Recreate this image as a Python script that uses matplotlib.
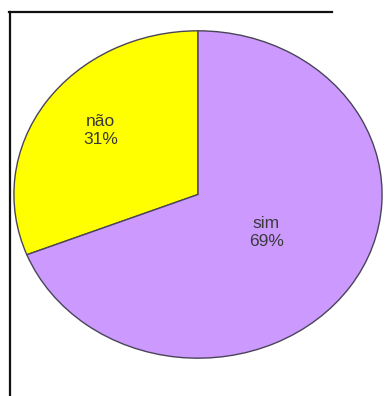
import matplotlib
matplotlib.use("Agg")
import matplotlib.pyplot as plt
from matplotlib.lines import Line2D

labels = ["não", "sim"]
values = [31, 69]
colors = ["#ffff00", "#cc99ff"]

fig = plt.figure(figsize=(3.85, 3.96), dpi=100)
fig.patch.set_facecolor("white")

# background axes in pixel coordinates, for the frame lines
bg = fig.add_axes([0, 0, 1, 1])
bg.set_xlim(0, 385)
bg.set_ylim(396, 0)
bg.axis("off")
bg.add_line(Line2D([9, 332], [12, 12], color="#111111", lw=1.6))
bg.add_line(Line2D([10, 10], [12, 396], color="#111111", lw=1.6))

# pie axes stretched over the ellipse bounding box
ax = fig.add_axes([13 / 385, (396 - 359) / 396, 370 / 385, 329 / 396])
wedges, _ = ax.pie(values, colors=colors, startangle=90, counterclock=True,
                   wedgeprops=dict(edgecolor="#4a4458", linewidth=1.0))
ax.set_aspect("auto")
ax.set_xlim(-1.005, 1.005)
ax.set_ylim(-1.005, 1.005)
ax.axis("off")

total = sum(values)
text_pos = [(-0.53, 0.39), (0.37, -0.23)]
for lab, v, (tx, ty) in zip(labels, values, text_pos):
    ax.text(tx, ty, f"{lab}\n{round(100 * v / total)}%", ha="center", va="center",
            fontsize=12.5, family="Liberation Sans", color="#3a3a3a", linespacing=1.25)

fig.savefig("out.png", dpi=100)
